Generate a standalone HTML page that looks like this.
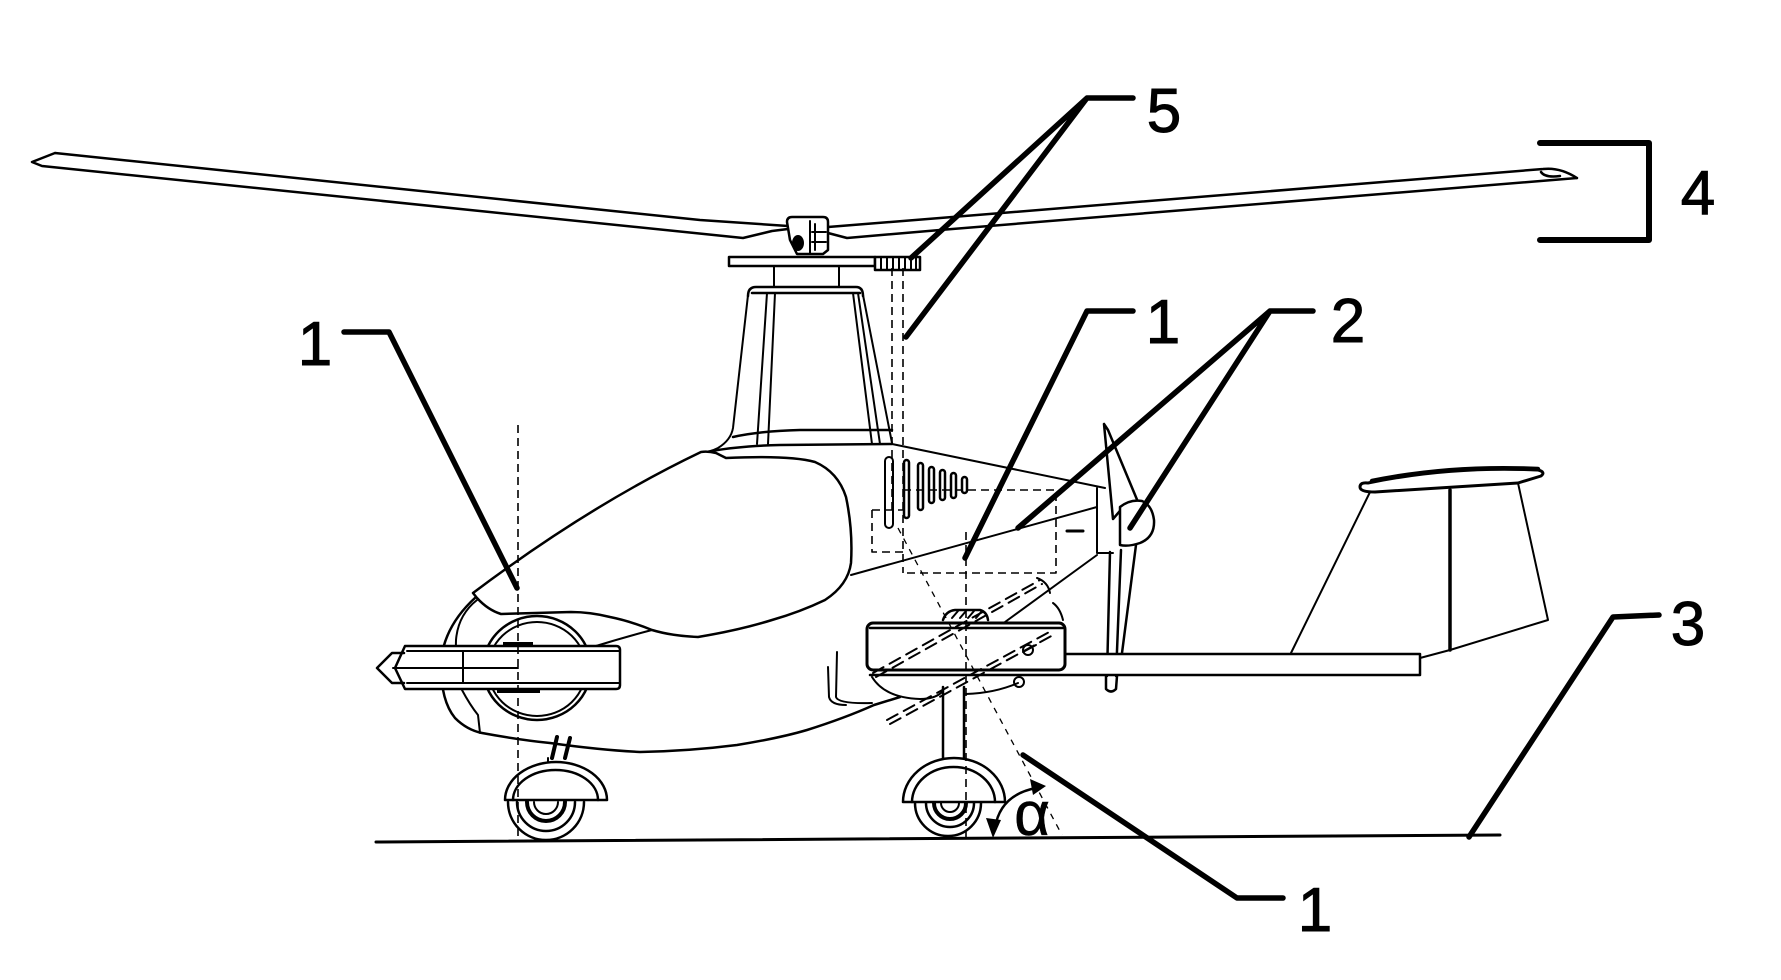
<!DOCTYPE html>
<html><head><meta charset="utf-8"><style>
html,body{margin:0;padding:0;background:#fff;}
svg{display:block;}
</style></head><body>
<svg width="1781" height="980" viewBox="0 0 1781 980" xmlns="http://www.w3.org/2000/svg">
<rect width="1781" height="980" fill="#fff"/>
<g fill="none" stroke="#000" stroke-width="2" stroke-linejoin="round" stroke-linecap="round">
  <!-- rotor blades -->
  <path stroke-width="2.5" d="M55 153 L700 220 L788 226 M55 153 L32 162 L42 166 L743 238 L772 231 L788 229"/>
  <path stroke-width="2.5" d="M828 227 L940 218 L1543 169 Q1560 167 1577 178 M828 233 L847 238 L940 230 L1577 178 M1541 172 Q1545 178 1560 176"/>
  <!-- hub -->
  <path stroke-width="2.5" fill="#fff" d="M787 222 Q787 217 792 217 L823 217 Q828 217 828 222 L828 250 L823 254 L797 254 L790 240 Z"/>
  <path d="M810 221 L810 253 M812 232 L826 232 M812 242 L826 242 M815 224 L815 250"/>
  <ellipse cx="798" cy="243" rx="5" ry="7" fill="#000"/>
  <!-- plate and gear -->
  <rect x="729" y="257" width="146" height="9" stroke-width="2.5" fill="#fff"/>
  <rect x="875" y="257" width="45" height="13" stroke-width="2.5" fill="#fff"/>
  <path d="M881 258 V270 M887 258 V270 M893 258 V270 M899 258 V270 M905 258 V270 M911 258 V270 M916 258 V270"/>
  <!-- mast -->
  <path d="M774 266 L774 287 M839 266 L839 287"/>
  <!-- pylon -->
  <path stroke-width="2.5" d="M748 296 Q748 287 756 287 L856 287 Q863 287 863 296 M752 293 L860 293"/>
  <path d="M748 295 L733 428 Q731 440 718 448 Q710 452 703 452"/>
  <path d="M767 293 L757 444 M775 293 L768 444 M853 293 L872 444 M858 293 L880 444 M863 295 L892 443"/>
  <path stroke-width="2.5" d="M733 437 Q760 431 800 430 L892 430 M712 451 Q740 446 780 445 L892 444"/>
  <!-- rear fuselage -->
  <path d="M892 444 L1105 488"/>
  <path d="M851 575 L1097 507"/>
  <path d="M1097 488 L1097 553 L1113 553 M1097 555 L1005 622"/>
  <path stroke-width="3" d="M1067 531 L1083 531"/>
  <!-- vents -->
  <rect x="885" y="457" width="8" height="71" rx="4"/>
  <g stroke-width="2.5">
    <rect x="904" y="460" width="5" height="58" rx="2.5"/>
    <rect x="918" y="463" width="5" height="47" rx="2.5"/>
    <rect x="929" y="467" width="5" height="36" rx="2.5"/>
    <rect x="940" y="470" width="5" height="30" rx="2.5"/>
    <rect x="951" y="473" width="5" height="25" rx="2.5"/>
    <rect x="962" y="477" width="5" height="16" rx="2.5"/>
  </g>
  <!-- propeller -->
  <path stroke-width="2.5" d="M1104 424 L1113 519 L1125 505 M1104 424 L1108 430 L1138 502"/>
  <path stroke-width="2.5" fill="#fff" d="M1120 507 Q1130 499 1142 501 Q1152 505 1154 520 Q1155 537 1140 543 Q1128 547 1120 545 Z"/>
  <path stroke-width="2.5" d="M1110 552 L1107 676 M1121 550 L1116 676 M1136 545 L1122 653 M1106 676 L1106 689 Q1111 694 1116 689 L1117 676"/>
  <!-- boom -->
  <rect x="1066" y="655" width="354" height="19" fill="#fff" stroke="none"/>
  <path stroke-width="2.5" d="M1065 654 L1420 654 L1420 675 M870 675 L1420 675"/>
  <!-- fin -->
  <path d="M1291 653 L1372 488"/>
  <path stroke-width="3" fill="#fff" d="M1368 483 Q1450 466 1538 470 Q1546 472 1541 476 L1518 483 L1375 492 Q1360 492 1360 487 Q1360 482 1368 483 Z"/>
  <path stroke-width="4.5" d="M1372 481 Q1450 465 1538 469"/>
  <path stroke-width="3.5" d="M1450 490 L1450 650"/>
  <path d="M1518 483 L1548 620 L1450 650 L1420 658"/>
  <!-- nose fairing -->
  <ellipse cx="537" cy="668" rx="54" ry="52" stroke-width="2.5"/>
  <ellipse cx="537" cy="669" rx="49" ry="47"/>
  <path stroke-width="2.5" d="M476 597 Q445 625 441 660 Q440 700 455 718 Q467 730 482 733 Q520 740 550 743 Q600 750 640 752 Q690 751 737 745 Q780 738 807 730 Q845 718 874 705 L900 697"/>
  <path d="M477 600 Q458 615 456 640 Q455 670 462 690 Q470 705 478 715 L480 733"/>
  <path d="M596 646 Q625 637 652 630"/>
  <!-- pod -->
  <path stroke-width="2.5" fill="#fff" d="M405 646 L616 646 Q620 646 620 650 L620 685 Q620 689 616 689 L405 689 L395 668 Z"/>
  <path stroke-width="2.5" d="M404 653 L392 653 L377 668 L392 683 L404 683"/>
  <path d="M407 651 L619 651 M407 683 L619 683 M393 668 L518 668 M463 651 L463 683"/>
  <rect x="503" y="642" width="30" height="4" fill="#000" stroke="none"/>
  <rect x="497" y="689" width="43" height="4" fill="#000" stroke="none"/>
  <!-- canopy -->
  <path stroke-width="2.5" fill="#fff" d="M473 593 Q590 505 701 452 Q708 451 716 453 L726 458 Q790 455 815 462 Q838 472 846 497 Q853 530 851 563 Q848 585 825 600 Q800 612 772 620 Q740 630 698 637 Q672 636 652 630 Q630 621 610 617 Q590 612 571 612 Q540 613 501 614 Q488 610 477 598 Z"/>
  <!-- box -->
  <rect x="867" y="623" width="198" height="47" rx="6" stroke-width="3" fill="#fff"/>
  <path stroke-width="2.5" d="M870 628 L1063 628"/>
  <path stroke-width="2.5" d="M943 620 Q946 611 955 610 L980 610 Q987 612 988 620"/>
  <path d="M952 618 L958 611 M960 618 L966 611 M968 618 L974 611 M976 618 L982 611"/>
  <g stroke-dasharray="12 7">
    <path d="M873 673 L1040 580 M876 677 L1042 584"/>
    <path d="M887 720 L1053 630 M890 724 L1055 634"/>
  </g>
  <path d="M1037 578 Q1048 582 1050 593 M1053 603 Q1060 608 1063 620"/>
  <circle cx="1028" cy="650" r="5"/>
  <path d="M1023 652 L1036 645"/>
  <!-- wheel well / doors -->
  <path d="M872 677 Q885 698 920 699 Q935 699 942 692 M966 694 Q995 693 1018 683"/>
  <circle cx="1019" cy="682" r="5"/>
  <path d="M837 652 L836 697 Q838 704 872 703 M828 667 L829 697 Q831 705 846 705"/>
  <!-- main gear -->
  <path stroke-width="2.5" d="M943 687 L943 758 M964 687 L964 758"/>
  <path stroke-width="2.5" fill="#fff" d="M903 802 A51 44 0 0 1 1005 802 Z"/>
  <path stroke-width="2.5" d="M912 802 A41.5 35 0 0 1 995 802"/>
  <path stroke-width="2.5" d="M915 803 A33 33 0 0 0 981 803"/>
  <path stroke-width="2.5" d="M926 803 A24 24 0 0 0 974 803"/>
  <path stroke-width="4" d="M934 803 A16 16 0 0 0 966 803"/>
  <path stroke-width="2" d="M941 803 A9 9 0 0 0 959 803"/>
  <!-- nose gear -->
  <path stroke-width="4" d="M557 737 L552 758 M570 738 L565 758"/>
  <path d="M548 758 L548 763"/>
  <path stroke-width="2.5" fill="#fff" d="M505 800 A51 38 0 0 1 607 800 Z"/>
  <path stroke-width="2.5" d="M513 800 A42.5 30 0 0 1 598 800"/>
  <path stroke-width="2.5" d="M508 802 A38 38 0 0 0 584 802"/>
  <path stroke-width="2.5" d="M517 802 A29 29 0 0 0 575 802"/>
  <path stroke-width="4" d="M527 802 A19 19 0 0 0 565 802"/>
  <path stroke-width="2" d="M534 802 A12 12 0 0 0 558 802"/>
  <!-- ground -->
  <path stroke-width="3" d="M376 842 L1500 835"/>
  <!-- dashed construction lines -->
  <g stroke-width="1.6" stroke-dasharray="8 5" stroke-linecap="butt">
    <path d="M518 425 L518 842"/>
    <path d="M892 268 L892 510"/>
    <path d="M903 268 L903 573"/>
    <path d="M903 490 L1056 490 L1056 573 L903 573"/>
    <path d="M872 510 L903 510 M872 510 L872 552 L903 552"/>
    <path d="M966 532 L966 838"/>
  </g>
  <path stroke-width="1.3" stroke-dasharray="6 6" stroke-linecap="butt" d="M898 528 L1062 835"/>
  <!-- alpha arc -->
  <path stroke-width="2.5" d="M995 828 Q1000 795 1036 788"/>
  <polygon points="993,838 986,818 1001,820" fill="#000" stroke="none"/>
  <polygon points="1046,786 1030,779 1033,795" fill="#000" stroke="none"/>
  <!-- leaders -->
  <g stroke-width="5.5">
    <path d="M344 332 L389 332 L517 588"/>
    <path d="M1133 98 L1087 98 L911 258 M1087 98 L906 337"/>
    <path d="M1133 311 L1087 311 L965 558"/>
    <path d="M1313 311 L1270 311 L1018 528 M1270 311 L1130 528"/>
    <path d="M1659 615 L1613 617 L1469 837"/>
    <path d="M1023 755 L1237 898 L1283 898"/>
    <path stroke-width="6" stroke-linecap="round" d="M1540 143 L1649 143 L1649 240 L1540 240"/>
  </g>
</g>
<g font-family="Liberation Sans, DejaVu Sans, sans-serif" font-size="62" fill="#000" stroke="#000" stroke-width="1" text-anchor="middle">
  <text x="1164" y="132">5</text>
  <text x="1698" y="214">4</text>
  <text x="315" y="365">1</text>
  <text x="1163" y="343">1</text>
  <text x="1348" y="342">2</text>
  <text x="1688" y="645">3</text>
  <text x="1315" y="931">1</text>
  <text x="1032" y="835" stroke-width="0.5">α</text>
</g>
</svg>
</body></html>
